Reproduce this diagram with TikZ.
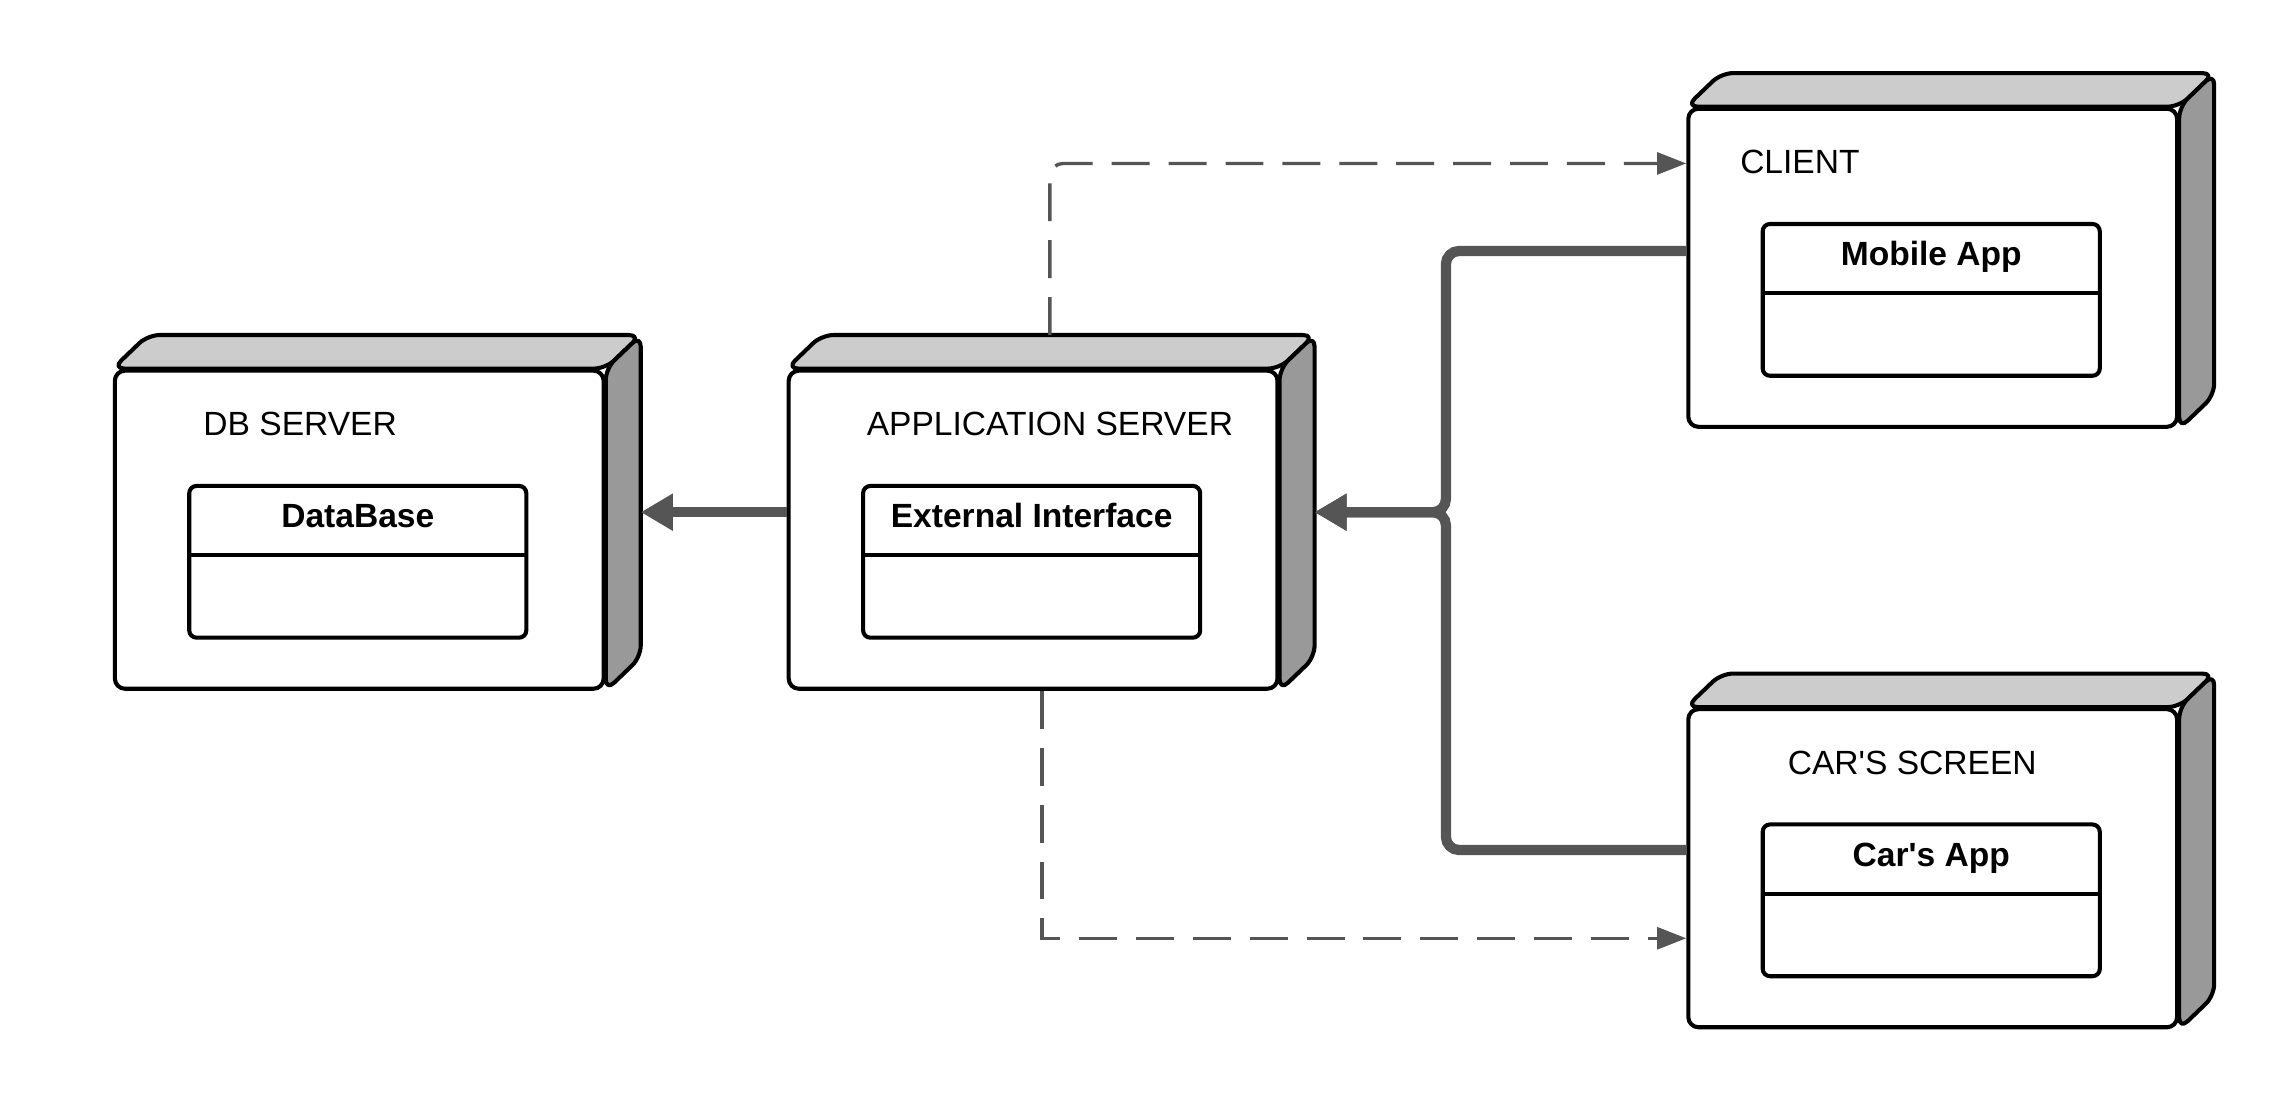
\documentclass[tikz,border=0pt]{standalone}
\usepackage{fontspec}
\setmainfont{Liberation Sans}
\usetikzlibrary{positioning,calc,arrows.meta,backgrounds}
\definecolor{linegray}{HTML}{555555}

\begin{document}
\begin{tikzpicture}[
    x=1pt, y=-1pt,
    device/.style={rectangle, draw=black, line width=2.8pt, fill=white, rounded corners=7pt, minimum width=335pt, minimum height=218pt, inner sep=0pt},
    devtop/.style={draw=black, line width=2.8pt, fill=black!20, rounded corners=8pt, line join=round},
    devside/.style={draw=black, line width=2.8pt, fill=black!40, rounded corners=8pt, line join=round},
    artifact/.style={rectangle, draw=black, line width=2.8pt, fill=white, rounded corners=5pt, minimum width=231pt, minimum height=104pt, inner sep=0pt},
    divider/.style={draw=black, line width=2.8pt},
    devname/.style={anchor=base, inner sep=0pt, font=\fontsize{23}{27}\selectfont},
    artname/.style={anchor=base, inner sep=0pt, font=\fontsize{23}{27}\selectfont\bfseries},
    bus/.style={draw=linegray, line width=7pt, rounded corners=9pt, -{Triangle[length=22pt,width=24pt]}},
    dep/.style={draw=linegray, line width=2.3pt, dash pattern=on 26pt off 13pt, rounded corners=9pt, -{Triangle[length=20pt,width=15pt]}}
]
    \useasboundingbox (0,0) rectangle (1568,756);

    % devices (front faces)
    \node[device] (app) at (708,363) {};
    \node[device, left=124pt of app] (db) {};
    \node[device] (client) at (1324.5,183.5) {};
    \node[device] (car) at (1324.5,595) {};

    % 3d top and side faces
    \begin{scope}[on background layer]
    \foreach \n in {db,app,client,car}{
        \draw[devtop] (\n.north west) -- ++(24,-23) -- ($(\n.north east)+(24,-23)$) -- (\n.north east) -- cycle;
        \draw[devside] (\n.north east) -- ++(24,-23) -- ($(\n.south east)+(24,-23)$) -- (\n.south east) -- cycle;
    }
    \end{scope}

    \node[devname] (dbtitle) at ($(db.north)+(-40.5,46)$) {DB SERVER};
    \node[devname] (apptitle) at ($(app.north)+(11.5,46)$) {APPLICATION SERVER};
    \node[devname] (clienttitle) at ($(client.north)+(-91,46)$) {CLIENT};
    \node[devname] (cartitle) at ($(car.north)+(-14,46)$) {CAR\textquotesingle S SCREEN};

    % artifacts
    \foreach \n/\t in {db/DataBase, app/External Interface, client/Mobile App, car/Car\textquotesingle s App}{
        \node[artifact] (\n-art) at ($(\n.center)+(-1,22)$) {};
        \node[artname] (\n-artname) at ($(\n-art.north)+(0,30)$) {\t};
        \draw[divider] ($(\n-art.north west)+(0,49)$) -- ($(\n-art.north east)+(0,49)$);
    }

    % connector ends
    \coordinate (dbin) at ($(db.east)+(24,-12)$);
    \coordinate (appout) at ($(app.west)+(0,-12)$);
    \coordinate (appin) at ($(app.east)+(24,-12)$);
    \coordinate (hub) at ($(appin)+(90,0)$);
    \coordinate (clientout) at ($(client.west)+(0,-11.5)$);
    \coordinate (carout) at ($(car.west)+(0,-12.5)$);
    \coordinate (apptop) at ($(app.north)+(11.5,-23)$);
    \coordinate (appbot) at ($(app.south)+(6,0)$);
    \coordinate (clientin) at ($(client.west)+(0,-71.5)$);
    \coordinate (carin) at ($(car.west)+(0,48)$);

    \draw[bus] (appout) -- (dbin);
    \draw[bus] (clientout) -| (hub) -- (appin);
    \draw[bus] (carout) -| (hub) -- (appin);
    \draw[dep] (apptop) |- (clientin);
    \draw[dep, rounded corners=0pt] (appbot) |- (carin);
\end{tikzpicture}
\end{document}
